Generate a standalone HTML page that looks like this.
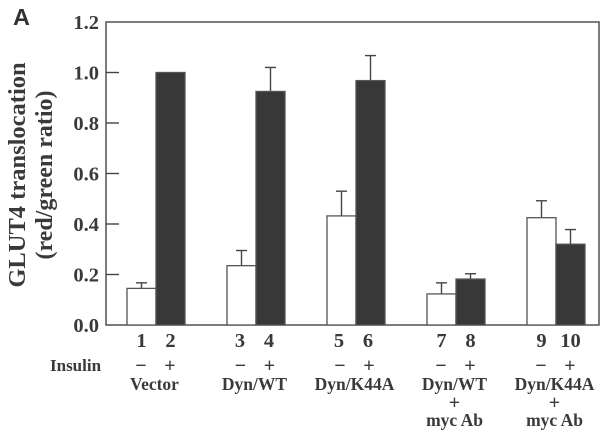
<!DOCTYPE html>
<html>
<head>
<meta charset="utf-8">
<style>
html,body{margin:0;padding:0;background:#fff;width:600px;height:430px;overflow:hidden}
svg{display:block;filter:blur(.25px)}
text{font-family:"Liberation Serif",serif;font-weight:bold;fill:#3a3a3a}
</style>
</head>
<body>
<svg id="chart" width="600" height="430" viewBox="0 0 600 430" xmlns="http://www.w3.org/2000/svg">
<text x="13" y="25" style="font-family:'Liberation Sans',sans-serif;font-size:23.5px;fill:#333">A</text>
<text transform="translate(25,175) rotate(-90)" text-anchor="middle" style="font-size:24.5px">GLUT4 translocation</text>
<text transform="translate(52,175) rotate(-90)" text-anchor="middle" style="font-size:24px">(red/green ratio)</text>
<text x="50" y="371" style="font-size:17px">Insulin</text>
</svg>
<script>
const barLabels = ['1','2','3','4','5','6','7','8','9','10'];
const insulin = ['−','+','−','+','−','+','−','+','−','+'];
const values = [0.145,1.0,0.235,0.925,0.432,0.968,0.123,0.182,0.425,0.32];
const errors = [0.022,0,0.06,0.095,0.098,0.099,0.044,0.021,0.067,0.058];
const yTicks = [0,0.2,0.4,0.6,0.8,1.0,1.2];
const groupLabels = [['Vector'],['Dyn/WT'],['Dyn/K44A'],['Dyn/WT','+','myc Ab'],['Dyn/K44A','+','myc Ab']];

const svg = document.getElementById('chart');
const NS = 'http://www.w3.org/2000/svg';
const plot = {left:106, right:599, top:22, bottom:325, yMax:1.2, groupStart:127, groupStep:100, barW:29};
function y(v){return plot.bottom-(v/plot.yMax)*(plot.bottom-plot.top);}
function xBar(i){return plot.groupStart+plot.groupStep*Math.floor(i/2)+plot.barW*(i%2);}
function numberShift(i){const g=Math.floor(i/2);return g===1?-1.5:g===2?-2.5:0;}
function signShift(i){const g=Math.floor(i/2);return g===1?-1:g===2?-1.5:-0.5;}
function make(tag,attrs){
  const el=document.createElementNS(NS,tag);
  for(const k in attrs){el.setAttribute(k,attrs[k]);}
  svg.appendChild(el);
  return el;
}

// frame
const frame=make('rect',{x:plot.left,y:plot.top,width:plot.right-plot.left,height:plot.bottom-plot.top,fill:'none',stroke:'#444','stroke-width':1.4});



// y ticks
yTicks.forEach(function(t){
  if(t>0&&t<1.2){
    const tick=make('line',{x1:plot.left,x2:plot.left+13,y1:y(t),y2:y(t),stroke:'#444','stroke-width':1.4});
    
    
  }
  const lab=make('text',{x:99,y:y(t)+7,'text-anchor':'end','font-size':20.5});
  lab.textContent=t.toFixed(1);
  
  
});

// bars, error bars, labels
values.forEach(function(v,i){
  const dark=i%2===1;
  const x=xBar(i);
  const cx=x+plot.barW/2;
  if(errors[i]>0){
    const stem=make('line',{x1:cx,x2:cx,y1:y(v),y2:y(v+errors[i]),stroke:'#444','stroke-width':1.4});
    
    
    const cap=make('line',{x1:cx-5.5,x2:cx+5.5,y1:y(v+errors[i]),y2:y(v+errors[i]),stroke:'#444','stroke-width':1.4});
    
    
  }
  const bar=make('rect',{x:x,y:y(v),width:plot.barW,height:plot.bottom-y(v),fill:dark?'#383838':'#fff',stroke:'#555','stroke-width':1.3});
  
  

  const num=make('text',{x:cx+numberShift(i),y:347,'text-anchor':'middle','font-size':20.5});
  num.textContent=barLabels[i];
  
  

  const sign=make('text',{x:cx+signShift(i),y:372,'text-anchor':'middle','font-size':20});
  sign.textContent=insulin[i];
  
  
});

// group labels
const lineY=[390,409,426];
groupLabels.forEach(function(lines,g){
  const cx=(xBar(g*2)+xBar(g*2+1)+plot.barW)/2-1.5;
  lines.forEach(function(s,n){
    const t=make('text',{x:cx,y:lineY[n],'text-anchor':'middle','font-size':s==='+'?20:17.5});
    t.textContent=s;
    
    
  });
});
</script>
</body>
</html>
